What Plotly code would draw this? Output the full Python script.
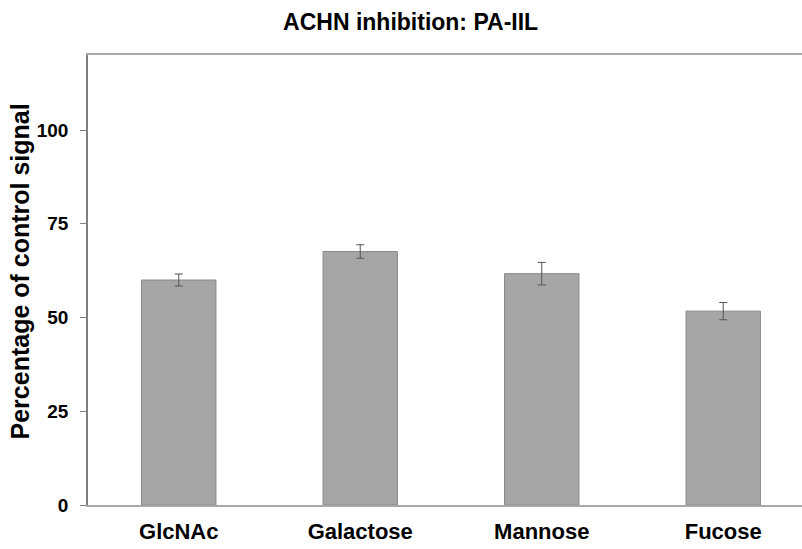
import plotly.graph_objects as go

categories = ["GlcNAc", "Galactose", "Mannose", "Fucose"]
values = [60.0, 67.6, 61.7, 51.7]
errors = [1.6, 1.8, 3.0, 2.3]
y_ticks = [0, 25, 50, 75, 100]
title_text = "ACHN inhibition: PA-IIL"
y_title = "Percentage of control signal"

FONT = "Liberation Sans, Arial, sans-serif"

fig = go.Figure()
fig.add_trace(go.Bar(
    x=categories,
    y=values,
    width=0.41,
    marker=dict(color="#a6a6a6", line=dict(color="#8a8a8a", width=1)),
    error_y=dict(type="data", array=errors, visible=True,
                 color="#555555", thickness=1, width=4),
))

fig.update_layout(
    width=802, height=549,
    margin=dict(l=88, r=0, t=55, b=44),
    paper_bgcolor="white", plot_bgcolor="white",
    showlegend=False,
    title=dict(text="<b>" + title_text + "</b>", xref="container", x=0.512,
               xanchor="center", yref="container", y=0.96, yanchor="middle",
               font=dict(family=FONT, size=23, color="black")),
    xaxis=dict(
        range=[-0.5, 3.434],
        showline=True, linecolor="#a8a8a8", linewidth=1.5, mirror=True,
        showgrid=False, ticks="", zeroline=False,
        tickfont=dict(family=FONT, size=22, color="black", weight="bold"),
        ticklabelstandoff=6,
    ),
    yaxis=dict(
        range=[0, 120],
        tickvals=y_ticks,
        showline=True, linecolor="#7f7f7f", linewidth=1.5, mirror=False,
        showgrid=False, zeroline=False,
        ticks="outside", ticklen=6, tickcolor="#7f7f7f", tickwidth=1,
        tickfont=dict(family=FONT, size=19, color="black", weight="bold"),
        ticklabelstandoff=8,
    ),
    annotations=[dict(
        text="<b>" + y_title + "</b>", textangle=-90,
        xref="paper", yref="paper", x=-0.0952, y=0.519,
        xanchor="center", yanchor="middle", showarrow=False,
        font=dict(family=FONT, size=25, color="black"),
    )],
)

fig.write_html("out.html")
